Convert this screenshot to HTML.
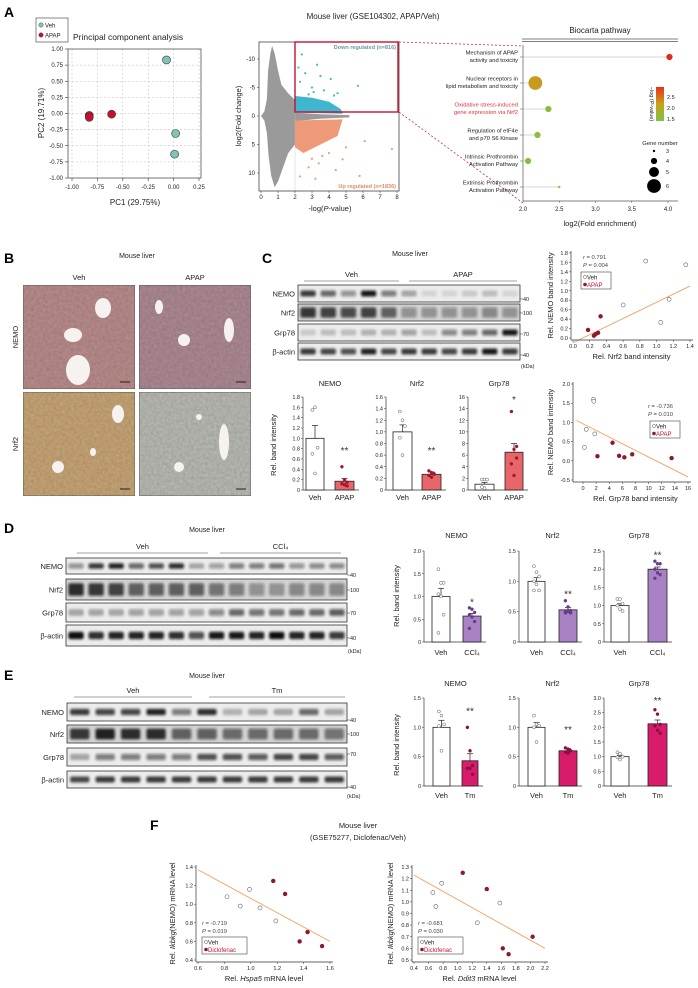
<!DOCTYPE html>
<html><head><meta charset="utf-8"><style>
html,body{margin:0;padding:0;background:#fff;}
svg{display:block;font-family:"Liberation Sans",Arial,sans-serif;}
</style></head><body>
<svg id="fig" width="698" height="988" viewBox="0 0 698 988" xmlns="http://www.w3.org/2000/svg">
<defs>
<filter id="blur1" x="-20%" y="-50%" width="140%" height="200%"><feGaussianBlur stdDeviation="1.2"/></filter>
<filter id="tex" x="0" y="0" width="100%" height="100%"><feTurbulence type="fractalNoise" baseFrequency="0.35" numOctaves="2" seed="3"/><feColorMatrix type="matrix" values="0 0 0 0 0  0 0 0 0 0  0 0 0 0 0  0 0 0 0.35 0"/><feComposite in2="SourceGraphic" operator="in"/><feBlend in="SourceGraphic" mode="multiply"/></filter>
<linearGradient id="cbar" x1="0" y1="1" x2="0" y2="0"><stop offset="0" stop-color="#7dc242"/><stop offset="0.5" stop-color="#c8a21a"/><stop offset="1" stop-color="#e8301c"/></linearGradient>
</defs>
</svg>
<script>
// ---------- DATA ----------
const pcaVehX=[-0.07,0.02,0.01], pcaVehY=[0.83,-0.31,-0.63];
const pcaApapX=[-0.83,-0.83,-0.61], pcaApapY=[-0.03,-0.06,-0.01];
const pcaTicksX=[-1,-0.75,-0.5,-0.25,0,0.25], pcaTicksY=[1,0.75,0.5,0.25,0,-0.25,-0.5,-0.75,-1];
const volDownX=[2.3,2.6,3.0,3.3,3.7,4.1,4.5,5.7,2.8,3.5,2.4,3.1,4.3,2.2];
const volDownY=[-6,-7.5,-5,-9,-4.5,-6.5,-4,-5.3,-3.8,-7,-10.8,-4.2,-3.6,-8.5];
const volUpX=[2.5,3.0,3.4,4.0,4.4,5.0,5.8,6.1,7.7,2.8,3.6,4.8,2.3,3.2];
const volUpY=[6,7.5,8.3,6.5,9.5,5.5,10.5,4.4,5.8,9,7,7.6,10.6,11];
const bioLabels=[["Mechanism of APAP","activity and toxicity"],["Nuclear receptors in","lipid metabolism and toxicity"],["Oxidative stress-induced","gene expression via Nrf2"],["Regulation of eIF4e","and p70 S6 Kinase"],["Intrinsic Prothrombin","Activation Pathway"],["Extrinsic Prothrombin","Activation Pathway"]];
const bioEnrich=[4.02,2.17,2.35,2.2,2.07,2.5];
const bioPval=[2.8,2.0,1.4,1.35,1.3,1.3];
const bioGenes=[4,6,4,4,4,3];
const bioTicks=[2.0,2.5,3.0,3.5,4.0];

const cNemoMean=[1.0,0.17], cNemoSE=[0.25,0.05], cNemoPts=[[1.55,1.6,0.82,0.7,0.32],[0.45,0.2,0.15,0.12,0.1,0.08]];
const cNrf2Mean=[1.0,0.27], cNrf2SE=[0.12,0.04], cNrf2Pts=[[1.35,1.2,1.1,0.9,0.6],[0.33,0.3,0.28,0.25,0.22,0.27]];
const cGrpMean=[1.0,6.5], cGrpSE=[0.3,1.5], cGrpPts=[[1.8,1.8,1.8,0.5,0.3],[13.5,7,5.5,4.5,2.5,7.5]];
const dNemoMean=[1.0,0.57], dNemoSE=[0.18,0.06], dNemoPts=[[1.6,1.3,1.3,1.05,1.0,0.6,0.2],[0.75,0.72,0.65,0.6,0.55,0.45,0.3]];
const dNrf2Mean=[1.0,0.53], dNrf2SE=[0.06,0.04], dNrf2Pts=[[1.25,1.15,1.08,1.0,0.95,0.85,0.85],[0.68,0.58,0.52,0.5,0.5,0.48,0.48]];
const dGrpMean=[1.0,2.0], dGrpSE=[0.05,0.06], dGrpPts=[[1.18,1.18,1.05,1.0,0.9,0.85],[2.22,2.15,2.15,2.0,1.9,1.85,1.75]];
const eNemoMean=[1.0,0.43], eNemoSE=[0.12,0.12], eNemoPts=[[1.27,1.2,1.05,1.02,0.6],[1.0,0.6,0.35,0.3,0.3,0.2]];
const eNrf2Mean=[1.0,0.6], eNrf2SE=[0.08,0.04], eNrf2Pts=[[1.2,1.05,1.03,1.0,0.75],[0.65,0.63,0.6,0.58,0.56,0.6]];
const eGrpMean=[1.0,2.12], eGrpSE=[0.05,0.13], eGrpPts=[[1.15,1.1,1.0,0.98,0.9],[2.6,2.45,2.1,2.05,1.9,1.8]];

const sc1VehX=[0.6,0.87,1.05,1.15,1.35], sc1VehY=[0.7,1.63,0.33,0.82,1.55];
const sc1ApX=[0.18,0.25,0.27,0.3,0.33], sc1ApY=[0.17,0.05,0.08,0.11,0.46];
const sc1Line=[[0,-0.1],[1.4,1.1]];
const sc2VehX=[0.2,0.5,1.6,1.65,1.8], sc2VehY=[0.35,0.82,1.6,1.55,0.7];
const sc2ApX=[2.2,4.5,5.5,6.3,7.5,13.5], sc2ApY=[0.12,0.47,0.13,0.09,0.17,0.07];
const sc2Line=[[-1,1.05],[16,-0.42]];
const f1VehX=[0.82,0.92,0.99,1.07,1.19], f1VehY=[1.08,0.98,1.16,0.96,0.82];
const f1DicX=[1.17,1.26,1.37,1.43,1.54], f1DicY=[1.25,1.11,0.60,0.70,0.55];
const f1Line=[[0.6,1.37],[1.6,0.6]];
const f2VehX=[0.66,0.70,0.78,1.27,1.58], f2VehY=[1.08,0.96,1.16,0.82,0.99];
const f2DicX=[1.07,1.40,1.62,1.70,2.03], f2DicY=[1.25,1.11,0.60,0.55,0.70];
const f2Line=[[0.4,1.23],[2.2,0.60]];

const cBlot=[[0.8,0.6,0.4,0.95,0.5,0.3,0.1,0.1,0.15,0.2,0.1],[0.8,0.75,0.7,0.75,0.6,0.35,0.35,0.35,0.35,0.4,0.35],[0.15,0.2,0.2,0.25,0.25,0.35,0.2,0.45,0.5,0.6,0.95],[0.8,0.75,0.7,0.9,0.75,0.8,0.8,0.75,0.8,0.95,0.8]];
const dBlot=[[0.4,0.8,0.9,0.6,0.7,0.85,0.3,0.35,0.5,0.5,0.55,0.4,0.45,0.45],[0.85,0.8,0.75,0.6,0.6,0.6,0.6,0.5,0.45,0.35,0.3,0.4,0.4,0.4],[0.3,0.3,0.3,0.35,0.35,0.35,0.35,0.45,0.6,0.55,0.55,0.6,0.6,0.65],[1,0.85,0.9,0.9,0.9,0.85,0.7,0.95,0.95,0.9,1,0.9,0.9,0.8]];
const eBlot=[[0.8,0.75,0.75,0.9,0.5,0.85,0.25,0.3,0.3,0.6,0.3],[0.8,0.9,0.85,0.85,0.6,0.6,0.55,0.55,0.55,0.55,0.5],[0.3,0.5,0.5,0.5,0.5,0.7,0.7,0.65,0.75,0.75,0.65],[0.75,0.8,0.8,0.8,0.8,0.8,0.8,0.8,0.8,0.8,0.8]];

// ---------- HELPERS ----------
const S=document.getElementById('fig');
const NS='http://www.w3.org/2000/svg';
function mk(tag,a,p){const e=document.createElementNS(NS,tag);for(const k in a)e.setAttribute(k,a[k]);(p||S).appendChild(e);return e;}
function tx(x,y,s,o,p){o=o||{};const e=mk('text',Object.assign({x:x,y:y,'font-size':o.fs||7,fill:o.fill||'#222','text-anchor':o.a||'start'},o.at||{}),p);e.textContent=s;return e;}
function lin(d0,d1,r0,r1){return v=>r0+(v-d0)/(d1-d0)*(r1-r0);}

[['A',4,17],['B',4,263],['C',262,263],['D',4,533],['E',4,680],['F',150,830]].forEach(l=>{
  const t=tx(l[1],l[2],l[0],{fs:14,at:{'font-weight':'bold'},fill:'#000'});
  
  
});

// ---------- PCA ----------
(function(){
  const g=mk('g',{});
  
  
  const X=lin(-1,0.25,72,199), Y=lin(-1,1,178,49);
  pcaTicksX.forEach(v=>{mk('line',{x1:X(v),x2:X(v),y1:49,y2:178,stroke:'#bbb','stroke-dasharray':'2,2','stroke-width':0.5},g);mk('line',{x1:X(v),x2:X(v),y1:178,y2:181,stroke:'#333','stroke-width':0.6},g);tx(X(v),189,v.toFixed(2),{fs:6,a:'middle'},g);});
  pcaTicksY.forEach(v=>{mk('line',{x1:68,x2:201,y1:Y(v),y2:Y(v),stroke:'#bbb','stroke-dasharray':'2,2','stroke-width':0.5},g);mk('line',{x1:65,x2:68,y1:Y(v),y2:Y(v),stroke:'#333','stroke-width':0.6},g);tx(63,Y(v)+2,v.toFixed(2),{fs:6,a:'end'},g);});
  mk('rect',{x:68,y:49,width:133,height:129,fill:'none',stroke:'#555','stroke-width':0.8},g);
  pcaApapX.forEach((v,i)=>{const c=mk('circle',{cx:X(v),cy:Y(pcaApapY[i]),r:4,fill:'#c8102e',stroke:'#333','stroke-width':0.6},g);});
  pcaVehX.forEach((v,i)=>{const c=mk('circle',{cx:X(v),cy:Y(pcaVehY[i]),r:4,fill:'#7ec4b8',stroke:'#333','stroke-width':0.6},g);});
  tx(135,205,'PC1 (29.75%)',{fs:8,a:'middle'},g);
  tx(0,0,'PC2 (19.71%)',{fs:8,a:'middle',at:{transform:'translate(44,113) rotate(-90)'}},g);
  tx(73,40,'Principal component analysis',{fs:8.5},g);
  const lg=mk('g',{},g);
  
  
  mk('rect',{x:36,y:18,width:32,height:24,fill:'#fff',stroke:'#555','stroke-width':0.7},lg);
  mk('circle',{cx:41,cy:25,r:2.2,fill:'#7ec4b8',stroke:'#333','stroke-width':0.4},lg);tx(45,27.5,'Veh',{fs:6},lg);
  mk('circle',{cx:41,cy:35,r:2.2,fill:'#c8102e',stroke:'#333','stroke-width':0.4},lg);tx(45,37.5,'APAP',{fs:6},lg);
})();

// ---------- VOLCANO ----------
(function(){
  const g=mk('g',{});
  
  
  const X=lin(0,8,261,397), Y=lin(-10,10,59,173);
  tx(373,19,'Mouse liver (GSE104302, APAP/Veh)',{fs:8,a:'middle'},g);
  const pts=[[0,0],[0.2,-0.8],[0.35,-3],[0.42,-8],[0.55,-11],[0.65,-12.3],[0.8,-11],[1.0,-8],[1.2,-5.5],[1.6,-4],[2,-2.8],[2,-0.6],[3.5,-0.3],[5.2,-0.15],[5.2,0.25],[3.5,0.5],[2,0.9],[2,5],[1.6,6.5],[1.3,9],[1.0,11.5],[0.8,12.5],[0.6,10.5],[0.45,7],[0.35,3],[0.2,0.8]];
  mk('path',{d:'M'+pts.map(p=>X(p[0]).toFixed(1)+','+Y(p[1]).toFixed(1)).join(' L')+' Z',fill:'#9a9a9a'},g);
  mk('path',{d:`M${X(2)},${Y(-0.6)} L${X(2)},${Y(-3.5)} L${X(3)},${Y(-3.2)} L${X(4)},${Y(-2.5)} L${X(4.7)},${Y(-1.2)} L${X(4.8)},${Y(-0.4)} Z`,fill:'#3fb6cf'},g);
  mk('path',{d:`M${X(2)},${Y(0.8)} L${X(4.8)},${Y(0.6)} L${X(4.5)},${Y(3.5)} L${X(3.5)},${Y(5)} L${X(2.5)},${Y(6.5)} L${X(2)},${Y(5.5)} Z`,fill:'#ee9a78'},g);
  volDownX.forEach((v,i)=>{mk('circle',{cx:X(v),cy:Y(volDownY[i]),r:1.1,fill:'#3fb6cf'},g);});
  volUpX.forEach((v,i)=>{mk('circle',{cx:X(v),cy:Y(volUpY[i]),r:1.1,fill:'#ee9a78'},g);});
  mk('line',{x1:X(2),x2:X(2),y1:112,y2:191,stroke:'#bbb','stroke-width':0.4},g);
  mk('rect',{x:259,y:42,width:140,height:149,fill:'none',stroke:'#444','stroke-width':0.8},g);
  const box=mk('rect',{x:295,y:42,width:103,height:70,fill:'none',stroke:'#c8102e','stroke-width':1.4},g);
  
  
  mk('line',{x1:399,y1:42,x2:523,y2:46,stroke:'#c8102e','stroke-dasharray':'2,2','stroke-width':0.7},g);
  mk('line',{x1:399,y1:112,x2:523,y2:203,stroke:'#c8102e','stroke-dasharray':'2,2','stroke-width':0.7},g);
  tx(396,49,'Down regulated (n=816)',{fs:5.5,a:'end',fill:'#6a9aa0',at:{'font-weight':'bold'}},g);
  tx(396,188,'Up regulated (n=1836)',{fs:5.5,a:'end',fill:'#e08a66',at:{'font-weight':'bold'}},g);
  [0,1,2,3,4,5,6,7,8].forEach(v=>{mk('line',{x1:X(v),x2:X(v),y1:191,y2:193,stroke:'#333','stroke-width':0.5},g);tx(X(v),199,String(v),{fs:6,a:'middle'},g);});
  [-10,-5,0,5,10].forEach(v=>{mk('line',{x1:257,x2:259,y1:Y(v),y2:Y(v),stroke:'#333','stroke-width':0.5},g);tx(255,Y(v)+2,String(v),{fs:6,a:'end'},g);});
  const xt=tx(330,211,'',{fs:7.5,a:'middle'},g);
  xt.innerHTML='-log(<tspan font-style="italic">P</tspan>-value)';
  tx(0,0,'log2(Fold change)',{fs:7.5,a:'middle',at:{transform:'translate(241,116) rotate(-90)'}},g);
})();

// ---------- BIOCARTA ----------
(function(){
  const g=mk('g',{});
  
  
  const X=lin(2,4,523,668);
  const rowY=[57,83,109,135,161,187];
  tx(600,33,'Biocarta pathway',{fs:8,a:'middle'},g);
  mk('line',{x1:522,x2:678,y1:39,y2:39,stroke:'#555','stroke-width':0.8},g);
  mk('line',{x1:522,x2:678,y1:41.5,y2:41.5,stroke:'#555','stroke-width':0.8},g);
  mk('line',{x1:523,x2:523,y1:45,y2:201,stroke:'#555','stroke-width':0.7},g);
  mk('line',{x1:523,x2:678,y1:201,y2:201,stroke:'#555','stroke-width':0.7},g);
  const col=p=>p>=2.5?'#e8271c':(p>=1.9?'#c89b1c':'#84c03c');
  bioLabels.forEach((l,i)=>{
    const y=rowY[i];
    const f=i===2?'#e0303a':'#222';
    tx(518,y-2.5,l[0],{fs:5.8,a:'end',fill:f},g);tx(518,y+5,l[1],{fs:5.8,a:'end',fill:f},g);
    mk('line',{x1:520,x2:523,y1:y,y2:y,stroke:'#555','stroke-width':0.5},g);
    mk('line',{x1:523,x2:X(bioEnrich[i]),y1:y,y2:y,stroke:'#aaa','stroke-width':0.5},g);
    const c=mk('circle',{cx:X(bioEnrich[i]),cy:y,r:1.2+(bioGenes[i]-3)*1.9,fill:col(bioPval[i])},g);
    
    
  });
  bioTicks.forEach(v=>{mk('line',{x1:X(v),x2:X(v),y1:201,y2:203,stroke:'#555','stroke-width':0.5},g);tx(X(v),211,v.toFixed(1),{fs:6,a:'middle'},g);});
  tx(600,226,'log2(Fold enrichment)',{fs:7.5,a:'middle'},g);
  mk('rect',{x:656,y:87,width:8,height:34,fill:'url(#cbar)'},g);
  [[2.5,97],[2.0,108],[1.5,119]].forEach(t=>tx(667,t[1]+2,t[0].toFixed(1),{fs:5.5},g));
  const lt=tx(0,0,'',{fs:5.5,a:'middle',at:{transform:'translate(650,104) rotate(90)'}},g);
  lt.innerHTML='−log (<tspan font-style="italic">P</tspan>-value)';
  tx(660,145,'Gene number',{fs:5.8,a:'middle'},g);
  [[3,151],[4,161],[5,172],[6,186]].forEach(t=>{mk('circle',{cx:654,cy:t[1],r:1.2+(t[0]-3)*1.9,fill:'#000'},g);tx(666,t[1]+2,String(t[0]),{fs:5.5},g);});
})();

// ---------- B: histology ----------
(function(){
  const g=mk('g',{});
  
  
  tx(137,258,'Mouse liver',{fs:7,a:'middle'},g);
  tx(79,280,'Veh',{fs:7.5,a:'middle'},g);tx(195,280,'APAP',{fs:7.5,a:'middle'},g);
  tx(0,0,'NEMO',{fs:7.5,a:'middle',at:{transform:'translate(18,337) rotate(-90)'}},g);
  tx(0,0,'Nrf2',{fs:7.5,a:'middle',at:{transform:'translate(18,444) rotate(-90)'}},g);
  const tiles=[[23,285,'#bc8f8e','nemo-veh'],[139,285,'#b08c96','nemo-apap'],[23,392,'#caa878','nrf2-veh'],[139,392,'#bdbdb7','nrf2-apap']];
  const vessels=[[[80,23,8,10],[50,50,9,7],[55,85,12,15]],[[20,22,4,7],[45,55,6,6],[90,45,5,12]],[[95,22,6,9],[35,75,6,6],[70,60,3,4]],[[85,50,5,18],[40,75,5,5],[60,25,3,3]]];
  tiles.forEach((t,i)=>{
    const r=mk('rect',{x:t[0],y:t[1],width:112,height:104,fill:t[2],stroke:'#555','stroke-width':0.8,filter:'url(#tex)'},g);
    
    
    vessels[i].forEach(v=>mk('ellipse',{cx:t[0]+v[0],cy:t[1]+v[1],rx:v[2],ry:v[3],fill:'#f6f2ef'},g));
    mk('line',{x1:t[0]+97,x2:t[0]+107,y1:t[1]+97,y2:t[1]+97,stroke:'#222','stroke-width':1},g);
  });
})();

// ---------- BLOTS ----------
function blot(name,x0,x1,rows,inten,labels,mw,kda){
  const g=mk('g',{});
  
  
  rows.forEach((r,ri)=>{
    const n=inten[ri].length, lw=(x1-x0)/n;
    mk('rect',{x:x0,y:r[0],width:x1-x0,height:r[1]-r[0],fill:ri===1?'#d2d2d2':'#ececec',stroke:'#333','stroke-width':0.8},g);
    inten[ri].forEach((v,li)=>{
      const bh=(r[1]-r[0])*(ri===1?0.6:0.35);
      mk('rect',{x:x0+li*lw+lw*0.12,y:(r[0]+r[1])/2-bh/2,width:lw*0.76,height:bh,rx:2,fill:'#111','fill-opacity':v,filter:'url(#blur1)'},g);
    });
    tx(x0-3,(r[0]+r[1])/2+3,labels[ri],{fs:7.5,a:'end'},g);
  });
  mw.forEach(m=>{mk('line',{x1:x1,x2:x1+3,y1:m[1],y2:m[1],stroke:'#333','stroke-width':0.5},g);tx(x1+3,m[1]+2,m[0],{fs:5.5},g);});
  tx(kda[0],kda[1],'(kDa)',{fs:5.5},g);
}
function groupHdr(items){items.forEach(it=>{tx((it[0]+it[1])/2,it[2]-4,it[3],{fs:7.5,a:'middle'});mk('line',{x1:it[0],x2:it[1],y1:it[2],y2:it[2],stroke:'#444','stroke-width':0.6});});}
const blotLabels=['NEMO','Nrf2','Grp78','β-actin'];
tx(410,256,'Mouse liver',{fs:7,a:'middle'});
groupHdr([[304,399,281,'Veh'],[409,517,281,'APAP']]);
blot('western-blot-c',298,520,[[285,302],[304,321],[324,341],[343,360]],cBlot,blotLabels,[['40',299],['100',313],['70',334],['40',355]],[521,368]);
tx(207,532,'Mouse liver',{fs:7,a:'middle'});
groupHdr([[77,208,553,'Veh'],[220,341,553,'CCl₄']]);
blot('western-blot-d',66,347,[[558,574],[579,600],[603,622],[625,646]],dBlot,blotLabels,[['40',575],['100',590],['70',613],['40',638]],[348,653]);
tx(207,678,'Mouse liver',{fs:7,a:'middle'});
groupHdr([[74,192,697,'Veh'],[209,345,697,'Tm']]);
blot('western-blot-e',67,347,[[703,721],[725,743],[748,766],[771,788]],eBlot,blotLabels,[['40',720],['100',734],['70',754],['40',787]],[347,798]);

// ---------- BAR CHARTS ----------
function barChart(name,c,mean,se,pts){
  const g=mk('g',{});
  
  
  const Y=lin(0,c.max,c.y0,c.y1);
  const ttl=tx((c.b[0][0]+c.b[1][0]+c.b[1][1])/2,c.title[1],c.title[0],{fs:7.5,a:'middle'},g);
  
  
  mk('line',{x1:c.ax,x2:c.ax,y1:c.y1,y2:c.y0,stroke:'#333','stroke-width':0.7},g);
  mk('line',{x1:c.ax,x2:c.b[1][0]+c.b[1][1]+5,y1:c.y0,y2:c.y0,stroke:'#333','stroke-width':0.7},g);
  for(let v=0;v<=c.max+1e-9;v+=c.step){mk('line',{x1:c.ax-2,x2:c.ax,y1:Y(v),y2:Y(v),stroke:'#333','stroke-width':0.5},g);tx(c.ax-3,Y(v)+2,v===0?'0':v.toFixed(c.dec),{fs:5.5,a:'end'},g);}
  mean.forEach((m,i)=>{
    const b=c.b[i], cx=b[0]+b[1]/2;
    mk('line',{x1:cx,x2:cx,y1:Y(m),y2:Y(m+se[i]),stroke:'#222','stroke-width':0.7},g);
    mk('line',{x1:cx-3,x2:cx+3,y1:Y(m+se[i]),y2:Y(m+se[i]),stroke:'#222','stroke-width':0.7},g);
    const r=mk('rect',{x:b[0],y:Y(m),width:b[1],height:c.y0-Y(m),fill:i===0?'#fff':c.color,stroke:'#222','stroke-width':0.8},g);
    
    
    pts[i].forEach((p,j)=>{mk('circle',{cx:cx+((j%3)-1)*2.6,cy:Y(p),r:1.5,fill:i===0?'#fff':c.dot,stroke:i===0?'#555':c.dot,'stroke-width':0.5},g);});
    tx(cx,c.xl,c.labels[i],{fs:7.5,a:'middle'},g);
  });
  const b=c.b[1];
  tx(b[0]+b[1]/2,Y(c.sig[1]),c.sig[0],{fs:10,a:'middle',fill:'#333'},g);
}
const cFill='#e8666a', cDot='#9b1b30', dFill='#a882c4', dDot='#6a3d8a', eFill='#d81b6a', eDot='#8a1040';
barChart('bar-chart-c-nemo',{ax:303,b:[[306,18],[335,19]],y0:490,y1:397,max:1.8,step:0.2,dec:1,color:cFill,dot:cDot,labels:['Veh','APAP'],xl:500,title:['NEMO',386],sig:['**',0.7]},cNemoMean,cNemoSE,cNemoPts);
barChart('bar-chart-c-nrf2',{ax:386,b:[[393,19],[422,19]],y0:490,y1:397,max:1.6,step:0.2,dec:1,color:cFill,dot:cDot,labels:['Veh','APAP'],xl:500,title:['Nrf2',386],sig:['**',0.62]},cNrf2Mean,cNrf2SE,cNrf2Pts);
barChart('bar-chart-c-grp78',{ax:468,b:[[475,19],[505,18]],y0:490,y1:397,max:16,step:2,dec:0,color:cFill,dot:cDot,labels:['Veh','APAP'],xl:500,title:['Grp78',386],sig:['*',15]},cGrpMean,cGrpSE,cGrpPts);
tx(0,0,'Rel. band intensity',{fs:7.5,a:'middle',at:{transform:'translate(276,445) rotate(-90)'}});
barChart('bar-chart-d-nemo',{ax:424,b:[[432,18],[463,18]],y0:642,y1:551,max:2.0,step:0.5,dec:1,color:dFill,dot:dDot,labels:['Veh','CCl₄'],xl:655,title:['NEMO',538],sig:['*',0.8]},dNemoMean,dNemoSE,dNemoPts);
barChart('bar-chart-d-nrf2',{ax:519,b:[[528,17],[559,18]],y0:642,y1:551,max:1.5,step:0.5,dec:1,color:dFill,dot:dDot,labels:['Veh','CCl₄'],xl:655,title:['Nrf2',538],sig:['**',0.73]},dNrf2Mean,dNrf2SE,dNrf2Pts);
barChart('bar-chart-d-grp78',{ax:604,b:[[611,18],[648,19]],y0:642,y1:551,max:2.5,step:0.5,dec:1,color:dFill,dot:dDot,labels:['Veh','CCl₄'],xl:655,title:['Grp78',538],sig:['**',2.3]},dGrpMean,dGrpSE,dGrpPts);
tx(0,0,'Rel. band intensity',{fs:7.5,a:'middle',at:{transform:'translate(399,596) rotate(-90)'}});
barChart('bar-chart-e-nemo',{ax:424,b:[[433,17],[462,16]],y0:786,y1:698,max:1.5,step:0.5,dec:1,color:eFill,dot:eDot,labels:['Veh','Tm'],xl:798,title:['NEMO',686],sig:['**',1.22]},eNemoMean,eNemoSE,eNemoPts);
barChart('bar-chart-e-nrf2',{ax:519,b:[[528,17],[559,18]],y0:786,y1:698,max:1.5,step:0.5,dec:1,color:eFill,dot:eDot,labels:['Veh','Tm'],xl:798,title:['Nrf2',686],sig:['**',0.9]},eNrf2Mean,eNrf2SE,eNrf2Pts);
barChart('bar-chart-e-grp78',{ax:604,b:[[611,18],[648,19]],y0:786,y1:698,max:3.0,step:0.5,dec:1,color:eFill,dot:eDot,labels:['Veh','Tm'],xl:798,title:['Grp78',686],sig:['**',2.8]},eGrpMean,eGrpSE,eGrpPts);
tx(0,0,'Rel. band intensity',{fs:7.5,a:'middle',at:{transform:'translate(399,745) rotate(-90)'}});

// ---------- SCATTERS ----------
function scatter(name,c,vx,vy,ax_,ay,line){
  const g=mk('g',{});
  
  
  const X=lin(c.xd[0],c.xd[1],c.xr[0],c.xr[1]), Y=lin(c.yd[0],c.yd[1],c.yr[0],c.yr[1]);
  const L=c.ax;
  const lineEl=mk('line',{x1:X(line[0][0]),y1:Y(line[0][1]),x2:X(line[1][0]),y2:Y(line[1][1]),stroke:'#f0a060','stroke-width':0.9},g);
  
  
  mk('line',{x1:L,x2:L,y1:c.yr[1]-2,y2:c.yr[0]+2,stroke:'#333','stroke-width':0.7},g);
  mk('line',{x1:L,x2:c.xr[1]+3,y1:c.yr[0]+2,y2:c.yr[0]+2,stroke:'#333','stroke-width':0.7},g);
  c.xt.forEach(v=>{mk('line',{x1:X(v),x2:X(v),y1:c.yr[0]+2,y2:c.yr[0]+4,stroke:'#333','stroke-width':0.5},g);tx(X(v),c.yr[0]+10,v.toFixed(c.xdec),{fs:5.5,a:'middle'},g);});
  c.yt.forEach(v=>{mk('line',{x1:L-2,x2:L,y1:Y(v),y2:Y(v),stroke:'#333','stroke-width':0.5},g);tx(L-3,Y(v)+2,v.toFixed(c.ydec),{fs:5.5,a:'end'},g);});
  vx.forEach((v,i)=>{const p=mk('circle',{cx:X(v),cy:Y(vy[i]),r:2,fill:'#fff',stroke:'#666','stroke-width':0.6},g);});
  ax_.forEach((v,i)=>{const p=mk('circle',{cx:X(v),cy:Y(ay[i]),r:2.2,fill:'#8b1a2b'},g);});
  const t1=tx(c.st[0],c.st[1],'',{fs:5.8,fill:'#444'},g);t1.innerHTML='<tspan font-style="italic">r</tspan> = '+c.r;
  const t2=tx(c.st[0],c.st[1]+8,'',{fs:5.8,fill:'#444'},g);t2.innerHTML='<tspan font-style="italic">P</tspan> = '+c.p;
  const lg=mk('g',{},g);
  
  
  mk('rect',{x:c.lg[0],y:c.lg[1],width:c.lg[2],height:17,fill:'#fff',stroke:'#444','stroke-width':0.6},lg);
  mk('circle',{cx:c.lg[0]+4,cy:c.lg[1]+5,r:1.6,fill:'#fff',stroke:'#555','stroke-width':0.5},lg);tx(c.lg[0]+6,c.lg[1]+7.5,'Veh',{fs:6},lg);
  mk('circle',{cx:c.lg[0]+4,cy:c.lg[1]+12.5,r:1.8,fill:'#8b1a2b'},lg);tx(c.lg[0]+6,c.lg[1]+15,c.tr,{fs:6,fill:'#c8102e'},lg);
  const xt=tx((c.xr[0]+c.xr[1])/2,c.yr[0]+21,'',{fs:7.5,a:'middle'},g);xt.innerHTML=c.xtitle;
  const yt=tx(0,0,'',{fs:7.5,a:'middle',at:{transform:`translate(${c.ytx},${(c.yr[0]+c.yr[1])/2}) rotate(-90)`}},g);yt.innerHTML=c.ytitle;
}
scatter('scatter-nemo-vs-nrf2',{xd:[0,1.4],xr:[573,690],yd:[0,1.8],yr:[338,253],ax:571,xt:[0,0.2,0.4,0.6,0.8,1.0,1.2,1.4],xdec:1,yt:[0,0.2,0.4,0.6,0.8,1.0,1.2,1.4,1.6,1.8],ydec:1,st:[583,259],r:'0.791',p:'0.004',lg:[581,272,30],tr:'APAP',xtitle:'Rel. Nrf2 band intensity',ytitle:'Rel. NEMO band intensity',ytx:553},sc1VehX,sc1VehY,sc1ApX,sc1ApY,sc1Line);
scatter('scatter-nemo-vs-grp78',{xd:[0,16],xr:[583,688],yd:[-0.5,2.0],yr:[480,384],ax:573,xt:[0,2,4,6,8,10,12,14,16],xdec:0,yt:[-0.5,0,0.5,1.0,1.5,2.0],ydec:1,st:[648,408],r:'-0.736',p:'0.010',lg:[650,421,30],tr:'APAP',xtitle:'Rel. Grp78 band intensity',ytitle:'Rel. NEMO band intensity',ytx:553},sc2VehX,sc2VehY,sc2ApX,sc2ApY,sc2Line);

tx(358,828,'Mouse liver',{fs:7.5,a:'middle'});
tx(358,840,'(GSE75277, Diclofenac/Veh)',{fs:7.5,a:'middle'});
scatter('scatter-ikbkg-vs-hspa5',{xd:[0.6,1.6],xr:[198,330],yd:[0.4,1.4],yr:[960,867],ax:196,xt:[0.6,0.8,1.0,1.2,1.4,1.6],xdec:1,yt:[0.4,0.6,0.8,1.0,1.2,1.4],ydec:1,st:[202,925],r:'-0.719',p:'0.019',lg:[202,937,45],tr:'Diclofenac',xtitle:'Rel. <tspan font-style="italic">Hspa5</tspan> mRNA level',ytitle:'Rel. <tspan font-style="italic">Ikbkg</tspan>(NEMO) mRNA level',ytx:175},f1VehX,f1VehY,f1DicX,f1DicY,f1Line);
scatter('scatter-ikbkg-vs-ddit3',{xd:[0.4,2.2],xr:[414,545],yd:[0.5,1.3],yr:[960,867],ax:412,xt:[0.4,0.6,0.8,1.0,1.2,1.4,1.6,1.8,2.0,2.2],xdec:1,yt:[0.5,0.6,0.7,0.8,0.9,1.0,1.1,1.2,1.3],ydec:1,st:[418,925],r:'-0.681',p:'0.030',lg:[418,937,45],tr:'Diclofenac',xtitle:'Rel. <tspan font-style="italic">Ddit3</tspan> mRNA level',ytitle:'Rel. <tspan font-style="italic">Ikbkg</tspan>(NEMO) mRNA level',ytx:393},f2VehX,f2VehY,f2DicX,f2DicY,f2Line);
</script>
</body></html>
